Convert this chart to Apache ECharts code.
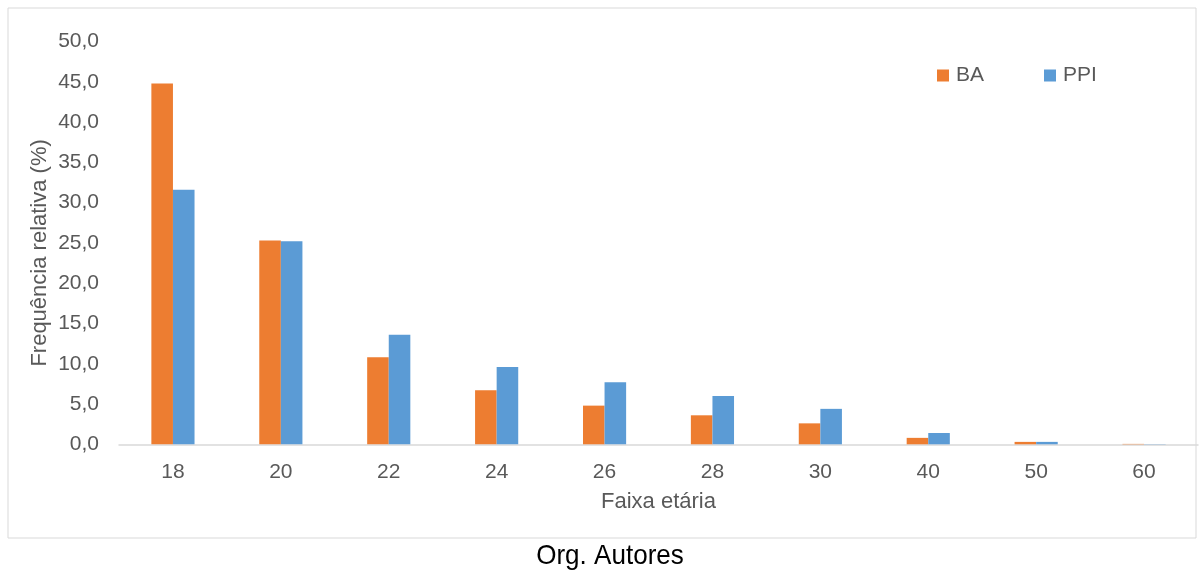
<!DOCTYPE html>
<html>
<head>
<meta charset="utf-8">
<script src="https://cdn.jsdelivr.net/npm/echarts@6/dist/echarts.min.js"></script>
<style>
  html, body { margin: 0; padding: 0; background: #ffffff; }
  #chart { width: 1203px; height: 573px; }
</style>
</head>
<body>
<div id="chart"></div>
<script>
// Age groups (Faixa etária)
const categories = ['18', '20', '22', '24', '26', '28', '30', '40', '50', '60'];
// Relative frequency (%) per group
const seriesBA  = [44.8, 25.3, 10.8, 6.7, 4.8, 3.6, 2.6, 0.8, 0.3, 0.05];
const seriesPPI = [31.6, 25.2, 13.6, 9.6, 7.7, 6.0, 4.4, 1.4, 0.3, 0.03];
const seriesNames = ['BA', 'PPI'];

const FONT = '"Liberation Sans", Arial, sans-serif';
const GREY = '#595959';
const chart = echarts.init(document.getElementById('chart'));

chart.setOption({
  animation: false,
  backgroundColor: '#ffffff',
  color: ['#ED7D31', '#5B9BD5'],
  grid: {
    left: 119, right: 5, top: 41.5, bottom: 128.7,
    containLabel: false, outerBoundsMode: 'none'
  },
  legend: {
    data: seriesNames,
    left: 937,
    top: 65,
    padding: 0,
    itemWidth: 12,
    itemHeight: 12,
    itemGap: 60,
    icon: 'rect',
    textStyle: { fontFamily: FONT, fontSize: 21, color: GREY, padding: [0, 0, 0, 2] }
  },
  xAxis: {
    type: 'category',
    data: categories,
    name: 'Faixa etária',
    nameLocation: 'middle',
    nameGap: 47,
    nameMoveOverlap: false,
    nameTextStyle: { fontFamily: FONT, fontSize: 22, color: GREY },
    axisLine: { lineStyle: { color: '#D9D9D9', width: 1.5 } },
    axisTick: { show: false },
    axisLabel: { fontFamily: FONT, fontSize: 21, color: GREY, margin: 17 }
  },
  yAxis: {
    type: 'value',
    min: 0,
    max: 50,
    interval: 5,
    name: 'Frequência relativa (%)',
    nameLocation: 'middle',
    nameGap: 68,
    nameRotate: 90,
    nameMoveOverlap: false,
    nameTextStyle: { fontFamily: FONT, fontSize: 22, color: GREY, padding: [0, 20, 0, 0] },
    axisLine: { show: false },
    axisTick: { show: false },
    splitLine: { show: false },
    axisLabel: {
      fontFamily: FONT, fontSize: 21, color: GREY, margin: 20,
      formatter: v => v.toFixed(1).replace('.', ',')
    }
  },
  series: [
    { name: seriesNames[0], type: 'bar', data: seriesBA, barGap: '0%', barCategoryGap: '60%' },
    { name: seriesNames[1], type: 'bar', data: seriesPPI, barGap: '0%', barCategoryGap: '60%' }
  ],
  graphic: [
    {
      type: 'rect',
      shape: { x: 8, y: 8, width: 1188, height: 530 },
      style: { fill: 'none', stroke: '#D9D9D9', lineWidth: 1 },
      z: -1
    },
    {
      type: 'text',
      x: 610,
      y: 556,
      scaleX: 0.93,
      style: {
        text: 'Org. Autores',
        fontFamily: FONT,
        fontSize: 28,
        fill: '#000000',
        align: 'center',
        verticalAlign: 'middle'
      }
    }
  ]
});
</script>
</body>
</html>
